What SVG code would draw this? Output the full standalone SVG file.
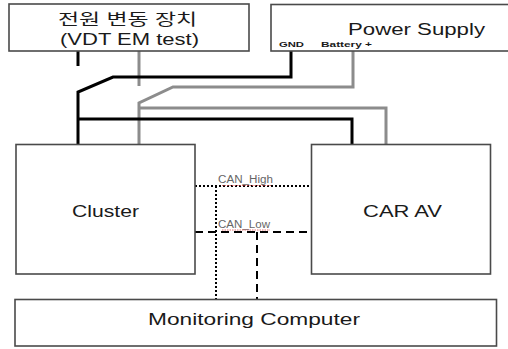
<svg xmlns="http://www.w3.org/2000/svg" width="508" height="349" viewBox="0 0 508 349">
<style>
.box{fill:#fff;stroke:#4a4a4a;stroke-width:1.6}
.t{font-family:"Liberation Sans","Noto Sans CJK KR",sans-serif;fill:#1a1a1a}
.blk{fill:none;stroke:#000;stroke-width:3;stroke-linejoin:miter}
.gry{fill:none;stroke:#8c8c8c;stroke-width:3;stroke-linejoin:miter}
.dot{fill:none;stroke:#000;stroke-width:2;stroke-dasharray:2 2}
.dash{fill:none;stroke:#000;stroke-width:2;stroke-dasharray:8 5}
.lbl{font-family:"Liberation Sans",sans-serif;font-size:10px;fill:#666}
.sq{fill:none;stroke:#e05050;stroke-width:0.8;stroke-dasharray:1.5 1}
</style>
<rect width="508" height="349" fill="#fff"/>
<g id="connectors">
  <path class="blk" d="M78,51 V66"/>
  <path class="gry" d="M139,51 V86"/>
  <path class="blk" d="M291,51 V77 H113 L78,92 V144"/>
  <path class="gry" d="M353,51 V87 H173 L139,103 V144"/>
  <path class="gry" d="M139,108 H386 V144"/>
  <path class="blk" d="M78,119 H352 V144"/>
  <path class="dot" d="M195,186 H311 M216,186 V299"/>
  <path class="dash" d="M195,232 H311 M257,232 V299"/>
  <text class="lbl" x="218" y="183" textLength="55" lengthAdjust="spacingAndGlyphs">CAN_High</text>
  <path class="sq" d="M222,185.5 H272"/>
  <text class="lbl" x="218" y="228" textLength="52" lengthAdjust="spacingAndGlyphs">CAN_Low</text>
  <path class="sq" d="M222,230 H270"/>
</g>
<g id="vdt">
  <rect class="box" x="9" y="4" width="240" height="47"/>
  <text class="t" x="58" y="25" font-size="16" textLength="139" lengthAdjust="spacingAndGlyphs">전원 변동 장치</text>
  <text class="t" x="60" y="45" font-size="16" textLength="139" lengthAdjust="spacingAndGlyphs">(VDT EM test)</text>
</g>
<g id="power">
  <rect class="box" x="271" y="4.5" width="245" height="46.5"/>
  <text class="t" x="348" y="35" font-size="16" textLength="137" lengthAdjust="spacingAndGlyphs">Power Supply</text>
  <text class="t" x="279" y="47" font-size="8" font-weight="bold" textLength="25" lengthAdjust="spacingAndGlyphs">GND</text>
  <text class="t" x="321" y="47" font-size="8" font-weight="bold" textLength="51" lengthAdjust="spacingAndGlyphs">Battery +</text>
</g>
<g id="cluster">
  <rect class="box" x="16" y="144.5" width="179" height="129.5"/>
  <text class="t" x="72" y="217" font-size="17" textLength="67" lengthAdjust="spacingAndGlyphs">Cluster</text>
</g>
<g id="carav">
  <rect class="box" x="311.5" y="144.5" width="179" height="129.5"/>
  <text class="t" x="363" y="217" font-size="17" textLength="79" lengthAdjust="spacingAndGlyphs">CAR AV</text>
</g>
<g id="monitor">
  <rect class="box" x="15" y="299.5" width="481.5" height="46.5"/>
  <text class="t" x="148" y="325" font-size="16" textLength="212" lengthAdjust="spacingAndGlyphs">Monitoring Computer</text>
</g>
</svg>
